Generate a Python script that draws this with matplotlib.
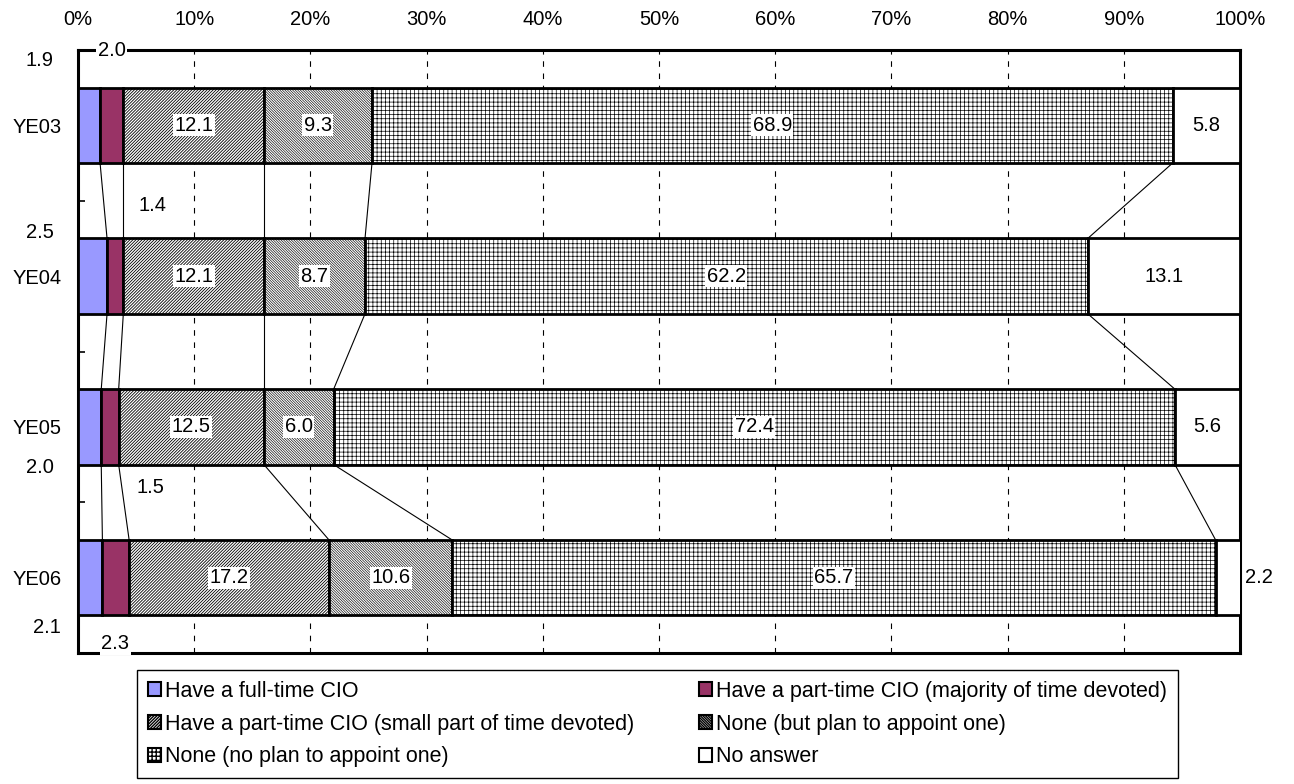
import matplotlib.pyplot as plt
import numpy as np

plt.rcParams['font.family'] = ['Liberation Sans', 'DejaVu Sans']

years = ['YE03', 'YE04', 'YE05', 'YE06']
series_names = ['Have a full-time CIO',
                'Have a part-time CIO (majority of time devoted)',
                'Have a part-time CIO (small part of time devoted)',
                'None (but plan to appoint one)',
                'None (no plan to appoint one)',
                'No answer']
full_time = [1.9, 2.5, 2.0, 2.1]
part_major = [2.0, 1.4, 1.5, 2.3]
part_small = [12.1, 12.1, 12.5, 17.2]
plan_one = [9.3, 8.7, 6.0, 10.6]
no_plan = [68.9, 62.2, 72.4, 65.7]
no_answer = [5.8, 13.1, 5.6, 2.2]

data = [full_time, part_major, part_small, plan_one, no_plan, no_answer]
colors = ['#9999ff', '#993366', 'white', 'white', 'white', 'white']
hatches = [None, None, '/' * 11, '\\' * 13, '+' * 4, None]
hatch_lw = [1.0, 1.0, 0.6, 0.45, 0.5, 1.0]

# where the small values get written (x in %, y in category units)
small_pos = {
    (0, 0): (-3.3, -0.43), (1, 0): (2.9, -0.5),
    (0, 1): (-3.3, 0.71), (1, 1): (6.4, 0.53),
    (0, 2): (-3.3, 2.27), (1, 2): (6.2, 2.40),
    (0, 3): (-2.7, 3.33), (1, 3): (3.2, 3.44),
    (5, 3): (101.6, 3.0),
}
fs = 14.5

fig = plt.figure(figsize=(12.94, 7.84), dpi=100)
ax = fig.add_axes([78 / 1294, 1 - 653 / 784, 1162 / 1294, 603 / 784])

y = np.arange(len(years))
h = 0.5
left = np.zeros(len(years))
bars = []
for k, vals in enumerate(data):
    with plt.rc_context({'hatch.linewidth': hatch_lw[k]}):
        b = ax.barh(y, vals, h, left=left, color=colors[k], edgecolor='black',
                    linewidth=2, hatch=hatches[k], label=series_names[k], zorder=3)
    bars.append(b)
    left = left + np.array(vals)
    if k < 5:
        # series lines between consecutive bars
        for i in range(len(years) - 1):
            ax.plot([left[i], left[i + 1]], [y[i] + h / 2, y[i + 1] - h / 2],
                    color='black', lw=0.8, zorder=2)

# value labels
starts = np.zeros(len(years))
for k, vals in enumerate(data):
    for i, v in enumerate(vals):
        if (k, i) in small_pos:
            tx, ty = small_pos[(k, i)]
            ax.text(tx, ty, '%.1f' % v, ha='center', va='center', fontsize=fs,
                    clip_on=False, zorder=5,
                    bbox=dict(facecolor='white', edgecolor='none', pad=1))
        elif k >= 2:
            bb = dict(facecolor='white', edgecolor='none', pad=1) if k < 5 else None
            ax.text(starts[i] + v / 2, y[i], '%.1f' % v, ha='center', va='center',
                    fontsize=fs, zorder=5, bbox=bb)
    starts = starts + np.array(vals)

ax.set_xlim(0, 100)
ax.set_ylim(3.5, -0.5)
ax.set_xticks(np.arange(0, 101, 10))
ax.set_xticklabels(['%d%%' % t for t in range(0, 101, 10)])
ax.xaxis.tick_top()
ax.tick_params(axis='x', length=0, labelsize=fs, pad=15)
ax.set_yticks(y)
ax.set_yticklabels(years)
ax.tick_params(axis='y', length=0, labelsize=fs, pad=12)
ax.set_yticks([0.5, 1.5, 2.5], minor=True)
ax.tick_params(axis='y', which='minor', direction='in', length=5, width=1.2)
ax.grid(True, axis='x', color='black', linestyle=(0, (5, 6)), lw=0.8, zorder=1)
ax.set_axisbelow(True)
for s in ax.spines.values():
    s.set_linewidth(2.2)

handles = [bars[i] for i in [0, 2, 4, 1, 3, 5]]
labels = [series_names[i] for i in [0, 2, 4, 1, 3, 5]]
leg = fig.legend(handles, labels, ncol=2, loc='upper left',
                 bbox_to_anchor=(137 / 1294, 1 - 670 / 784, 1041 / 1294, 0),
                 mode='expand', fontsize=15.5, frameon=True, fancybox=False,
                 edgecolor='black', framealpha=1, handlelength=0.6,
                 handleheight=0.6, handletextpad=0.2, labelspacing=0.55,
                 borderpad=0.5, borderaxespad=0)
leg.get_frame().set_linewidth(1.0)
for p in leg.get_patches():
    p.set_linewidth(1.5)

fig.savefig('out.png', dpi=100)
plt.close()
